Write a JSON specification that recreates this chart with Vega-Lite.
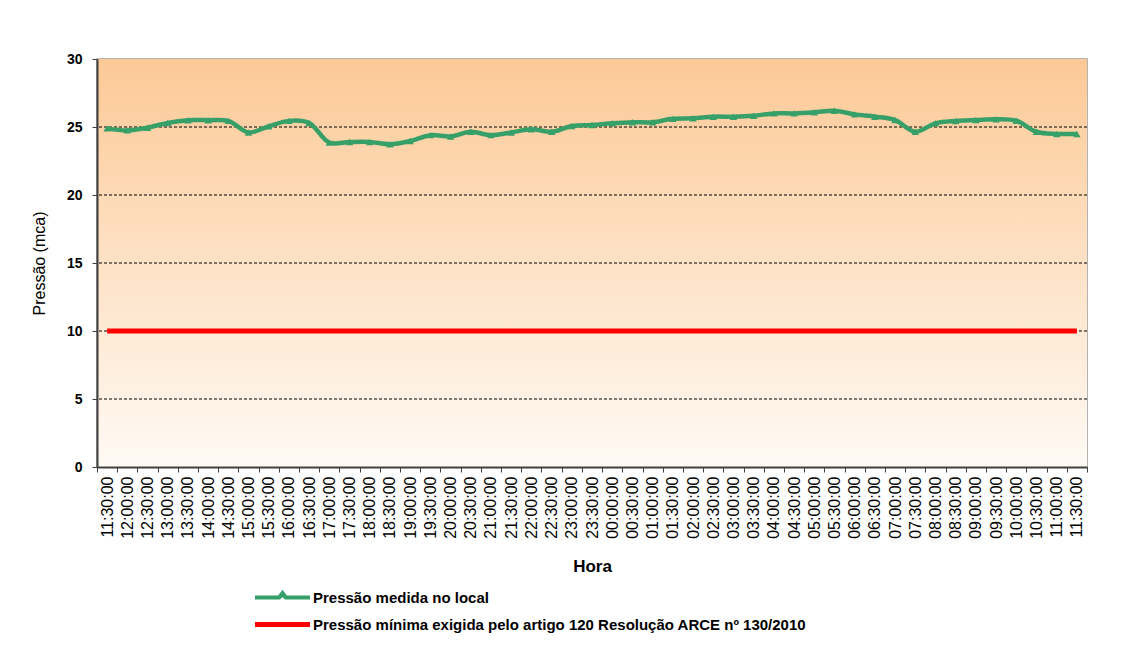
{
  "$schema": "https://vega.github.io/schema/vega-lite/v6.json",
  "width": 990,
  "height": 408,
  "autosize": {"type": "none"},
  "padding": {"left": 97, "top": 59, "right": 45, "bottom": 203},
  "background": "white",
  "config": {
    "font": "Liberation Sans",
    "view": {"stroke": "#9a9a9a", "strokeWidth": 1.5}
  },
  "data": {
    "values": [
      {"hora": "11:30:00", "p": 24.9},
      {"hora": "12:00:00", "p": 24.75},
      {"hora": "12:30:00", "p": 24.95},
      {"hora": "13:00:00", "p": 25.3},
      {"hora": "13:30:00", "p": 25.5},
      {"hora": "14:00:00", "p": 25.5},
      {"hora": "14:30:00", "p": 25.45},
      {"hora": "15:00:00", "p": 24.6},
      {"hora": "15:30:00", "p": 25.05},
      {"hora": "16:00:00", "p": 25.45},
      {"hora": "16:30:00", "p": 25.3},
      {"hora": "17:00:00", "p": 23.85},
      {"hora": "17:30:00", "p": 23.9},
      {"hora": "18:00:00", "p": 23.9},
      {"hora": "18:30:00", "p": 23.73},
      {"hora": "19:00:00", "p": 23.97},
      {"hora": "19:30:00", "p": 24.4},
      {"hora": "20:00:00", "p": 24.3},
      {"hora": "20:30:00", "p": 24.65},
      {"hora": "21:00:00", "p": 24.4},
      {"hora": "21:30:00", "p": 24.6},
      {"hora": "22:00:00", "p": 24.83},
      {"hora": "22:30:00", "p": 24.65},
      {"hora": "23:00:00", "p": 25.07},
      {"hora": "23:30:00", "p": 25.15},
      {"hora": "00:00:00", "p": 25.27},
      {"hora": "00:30:00", "p": 25.35},
      {"hora": "01:00:00", "p": 25.35},
      {"hora": "01:30:00", "p": 25.6},
      {"hora": "02:00:00", "p": 25.64},
      {"hora": "02:30:00", "p": 25.76},
      {"hora": "03:00:00", "p": 25.76},
      {"hora": "03:30:00", "p": 25.83},
      {"hora": "04:00:00", "p": 26.0},
      {"hora": "04:30:00", "p": 26.0},
      {"hora": "05:00:00", "p": 26.08},
      {"hora": "05:30:00", "p": 26.2},
      {"hora": "06:00:00", "p": 25.93},
      {"hora": "06:30:00", "p": 25.76},
      {"hora": "07:00:00", "p": 25.51},
      {"hora": "07:30:00", "p": 24.65},
      {"hora": "08:00:00", "p": 25.27},
      {"hora": "08:30:00", "p": 25.44},
      {"hora": "09:00:00", "p": 25.51},
      {"hora": "09:30:00", "p": 25.57},
      {"hora": "10:00:00", "p": 25.46},
      {"hora": "10:30:00", "p": 24.65},
      {"hora": "11:00:00", "p": 24.49},
      {"hora": "11:30:00 ", "p": 24.49}
    ]
  },
  "encoding": {
    "x": {
      "field": "hora",
      "type": "ordinal",
      "sort": null,
      "scale": {"type": "band", "paddingInner": 0, "paddingOuter": 0},
      "axis": {
        "title": "Hora",
        "titleFont": "Liberation Sans",
        "titleFontSize": 17,
        "titleFontWeight": "bold",
        "titleColor": "#000000",
        "titlePadding": 20,
        "labelAngle": -90,
        "labelAlign": "right",
        "labelBaseline": "middle",
        "labelFontSize": 16,
        "labelColor": "#000000",
        "labelPadding": 4,
        "labelOverlap": false,
        "labelExpr": "trim(datum.label)",
        "tickBand": "extent",
        "tickSize": 5,
        "tickColor": "#404040",
        "domainColor": "#404040",
        "domainWidth": 2,
        "grid": false,
        "zindex": 1
      }
    }
  },
  "layer": [
    {
      "data": {"values": [{"a": 1}]},
      "mark": {
        "type": "rect",
        "color": {
          "gradient": "linear",
          "x1": 0, "y1": 0, "x2": 0, "y2": 1,
          "stops": [
            {"offset": 0, "color": "#fcc996"},
            {"offset": 1, "color": "#fffaf5"}
          ]
        }
      },
      "encoding": {
        "x": null,
        "y": {"datum": 30, "type": "quantitative"},
        "y2": {"datum": 0}
      }
    },
    {
      "data": {"values": [{"g": 5}, {"g": 10}, {"g": 15}, {"g": 20}, {"g": 25}]},
      "mark": {"type": "rule", "color": "#000000", "strokeWidth": 1, "strokeDash": [3, 2]},
      "encoding": {
        "x": null,
        "y": {"field": "g", "type": "quantitative"}
      }
    },
    {
      "mark": {
        "type": "line",
        "strokeWidth": 4.5,
        "interpolate": "catmull-rom",
        "point": {"shape": "triangle-up", "size": 55, "filled": true, "color": "#36a068", "opacity": 1}
      },
      "encoding": {
        "y": {
          "field": "p",
          "type": "quantitative",
          "scale": {"domain": [0, 30]},
          "axis": {
            "title": "Pressão (mca)",
            "titleFont": "Liberation Sans",
            "titleFontSize": 16,
            "titleFontWeight": "normal",
            "titleColor": "#000000",
            "titlePadding": 19,
            "values": [0, 5, 10, 15, 20, 25, 30],
            "labelFontSize": 14,
            "labelFontWeight": "bold",
            "labelColor": "#000000",
            "labelPadding": 10,
            "tickSize": 5,
            "tickColor": "#404040",
            "domainColor": "#404040",
            "domainWidth": 2,
            "grid": false,
            "zindex": 1
          }
        },
        "color": {
          "datum": "Pressão medida no local",
          "scale": {
            "domain": ["Pressão medida no local", "Pressão mínima exigida pelo artigo 120 Resolução ARCE nº 130/2010"],
            "range": ["#36a068", "#ff0000"]
          },
          "legend": {
            "title": null,
            "orient": "none",
            "legendX": 178,
            "legendY": 531,
            "direction": "vertical",
            "symbolType": "M-1,0L1,0",
            "symbolSize": 3025,
            "symbolStrokeWidth": 4,
            "symbolFillColor": "transparent",
            "labelFont": "Liberation Sans",
            "labelFontSize": 15,
            "labelFontWeight": "bold",
            "labelColor": "#000000",
            "labelOffset": 23,
            "labelLimit": 800,
            "rowPadding": 8,
            "encode": {
              "symbols": {
                "update": {
                  "shape": {"signal": "datum.value == 'Pressão medida no local' ? 'M-1,0L-0.12,0L0,-0.16L0.12,0L1,0' : 'M-1,0L1,0'"},
                  "strokeWidth": {"signal": "datum.value == 'Pressão medida no local' ? 4 : 5"},
                  "fill": {"value": "transparent"}
                }
              }
            }
          }
        }
      }
    },
    {
      "data": {"values": [{"hora": "11:30:00", "p": 10}, {"hora": "11:30:00 ", "p": 10}]},
      "mark": {"type": "line", "strokeWidth": 5, "color": "#ff0000"},
      "encoding": {
        "y": {"field": "p", "type": "quantitative"},
        "color": {"datum": "Pressão mínima exigida pelo artigo 120 Resolução ARCE nº 130/2010"}
      }
    }
  ]
}
